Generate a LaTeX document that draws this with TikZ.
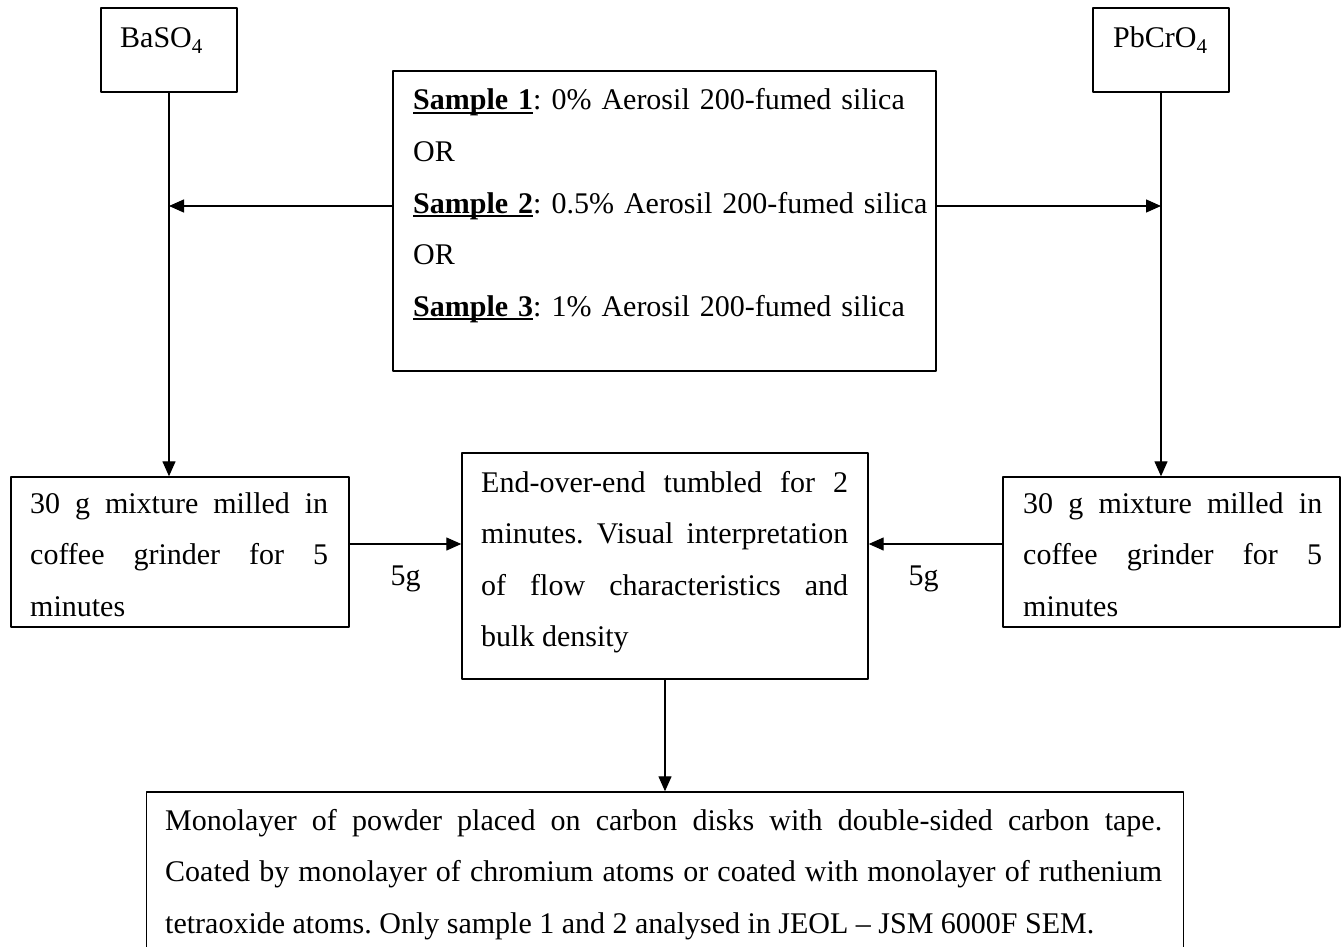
\documentclass[tikz,border=0pt]{standalone}
\usepackage{fontspec}
\setmainfont{Liberation Serif}
\usetikzlibrary{arrows.meta}
\tolerance=10000 \hbadness=10000 \hyphenpenalty=10000
\frenchspacing
% bold sample name with a rule just under the baseline
\newcommand{\samptag}[1]{\leavevmode\setbox0\hbox{\textbf{#1}}\rlap{\rule[-4pt]{\wd0}{2pt}}\box0}
\begin{document}
\begin{tikzpicture}[x=1pt, y=-1pt, line join=round, >={Triangle[length=15pt,width=13pt]},
	box/.style={draw, line width=1.4pt, inner sep=0pt},
	txt/.style={anchor=base west, inner sep=0pt, font=\fontsize{30}{51.6}\selectfont},
	arr/.style={->, line width=1.3pt},
	lbl/.style={anchor=base, inner sep=0pt, font=\fontsize{30}{36}\selectfont}]
	\fill[white] (0,0) rectangle (1343,947);
	\useasboundingbox (0,0) rectangle (1343,947);
	% boxes
	\node[box, minimum width=136pt, minimum height=84pt] (barium) at (169,50) {};
	\node[box, minimum width=136pt, minimum height=84pt] (lead) at (1161,50) {};
	\node[box, minimum width=543pt, minimum height=300pt] (samples) at (664.5,221) {};
	\node[box, minimum width=338pt, minimum height=150pt] (mixL) at (180,552) {};
	\node[box, minimum width=406pt, minimum height=226pt] (tumble) at (665,566) {};
	\node[box, minimum width=337pt, minimum height=150pt] (mixR) at (1171.5,552) {};
	\node[box, minimum width=1037pt, minimum height=168pt] (sem) at (665,876) {};
	% texts
	\node[txt] (bariumtxt) at (120,48) {BaSO\textsubscript{4}};
	\node[txt] (leadtxt) at (1113,48) {PbCrO\textsubscript{4}};
	\node[txt, text width=520pt, align=left] (samplestxt) at (413,110) {\samptag{Sample 1}: 0\% Aerosil 200-fumed silica\\
		OR\\
		\samptag{Sample 2}: 0.5\% Aerosil 200-fumed silica\\
		OR\\
		\samptag{Sample 3}: 1\% Aerosil 200-fumed silica};
	\node[txt, text width=298pt, align=justify] (mixLtxt) at (30,513) {30 g mixture milled in\linebreak coffee grinder for 5\linebreak minutes};
	\node[txt, text width=367pt, align=justify] (tumbletxt) at (481,492) {End-over-end tumbled for 2\linebreak minutes. Visual interpretation\linebreak of flow characteristics and\linebreak bulk density};
	\node[txt, text width=299pt, align=justify] (mixRtxt) at (1023,513) {30 g mixture milled in\linebreak coffee grinder for 5\linebreak minutes};
	\node[txt, text width=997pt, align=justify] (semtxt) at (165,830) {Monolayer of powder placed on carbon disks with double-sided carbon tape.\linebreak Coated by monolayer of chromium atoms or coated with monolayer of ruthenium\linebreak tetraoxide atoms. Only sample 1 and 2 analysed in JEOL -- JSM 6000F SEM.};
	% connectors
	\draw[arr] (barium.south) -- (barium.south |- mixL.north);
	\draw[arr] (lead.south) -- (lead.south |- mixR.north);
	\draw[arr] ([yshift=15pt]samples.west) -- ([yshift=15pt]samples.west -| barium.south);
	\draw[arr] ([yshift=15pt]samples.east) -- ([yshift=15pt]samples.east -| lead.south);
	\draw[arr] ([yshift=8pt]mixL.east) -- ([yshift=8pt]mixL.east -| tumble.west) node[lbl, midway, yshift=-41pt] {5g};
	\draw[arr] ([yshift=8pt]mixR.west) -- ([yshift=8pt]mixR.west -| tumble.east) node[lbl, midway, xshift=-12pt, yshift=-41pt] {5g};
	\draw[arr] (tumble.south) -- (sem.north);
\end{tikzpicture}
\end{document}
